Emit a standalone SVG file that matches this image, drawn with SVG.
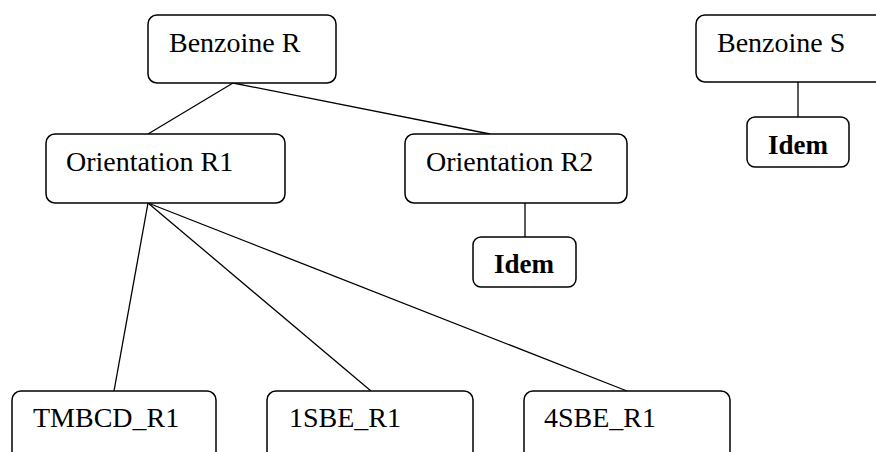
<svg xmlns="http://www.w3.org/2000/svg" width="876" height="452" viewBox="0 0 876 452">
  <style>
    .box { fill: #ffffff; stroke: #000000; stroke-width: 1.5; }
    .lbl { font-family: "Liberation Serif", "Times New Roman", serif; font-size: 28px; fill: #000000; }
    .idem { font-family: "Liberation Serif", "Times New Roman", serif; font-size: 27px; font-weight: bold; fill: #000000; text-anchor: middle; }
    .edge { stroke: #000000; stroke-width: 1.3; fill: none; }
  </style>
  <rect width="876" height="452" fill="#ffffff"/>

  <g id="connectors">
    <line class="edge" x1="233" y1="83" x2="148" y2="134"/>
    <line class="edge" x1="233" y1="83" x2="490" y2="134"/>
    <line class="edge" x1="148" y1="203" x2="114" y2="391"/>
    <line class="edge" x1="148" y1="203" x2="371" y2="391"/>
    <line class="edge" x1="148" y1="203" x2="627" y2="391"/>
    <line class="edge" x1="525" y1="203" x2="525" y2="237"/>
    <line class="edge" x1="798" y1="82" x2="798" y2="117"/>
  </g>

  <g id="benzoine-r">
    <rect class="box" x="148" y="15" width="188" height="68" rx="9"/>
    <text class="lbl" x="169" y="52">Benzoine R</text>
  </g>

  <g id="benzoine-s">
    <rect class="box" x="696" y="15" width="200" height="67" rx="9"/>
    <text class="lbl" x="717" y="52">Benzoine S</text>
  </g>

  <g id="idem-s">
    <rect class="box" x="747" y="117" width="102" height="50" rx="8"/>
    <text class="idem" x="798" y="154">Idem</text>
  </g>

  <g id="orientation-r1">
    <rect class="box" x="46" y="134" width="239" height="69" rx="9"/>
    <text class="lbl" x="66" y="171">Orientation R1</text>
  </g>

  <g id="orientation-r2">
    <rect class="box" x="405" y="134" width="222" height="69" rx="9"/>
    <text class="lbl" x="426" y="171">Orientation R2</text>
  </g>

  <g id="idem-r2">
    <rect class="box" x="473" y="237" width="103" height="50" rx="8"/>
    <text class="idem" x="524" y="273">Idem</text>
  </g>

  <g id="tmbcd-r1">
    <rect class="box" x="12" y="391" width="204" height="80" rx="9"/>
    <text class="lbl" x="33" y="427">TMBCD_R1</text>
  </g>

  <g id="sbe1-r1">
    <rect class="box" x="267" y="391" width="206" height="80" rx="9"/>
    <text class="lbl" x="289" y="427">1SBE_R1</text>
  </g>

  <g id="sbe4-r1">
    <rect class="box" x="524" y="391" width="206" height="80" rx="9"/>
    <text class="lbl" x="544" y="427">4SBE_R1</text>
  </g>
</svg>
